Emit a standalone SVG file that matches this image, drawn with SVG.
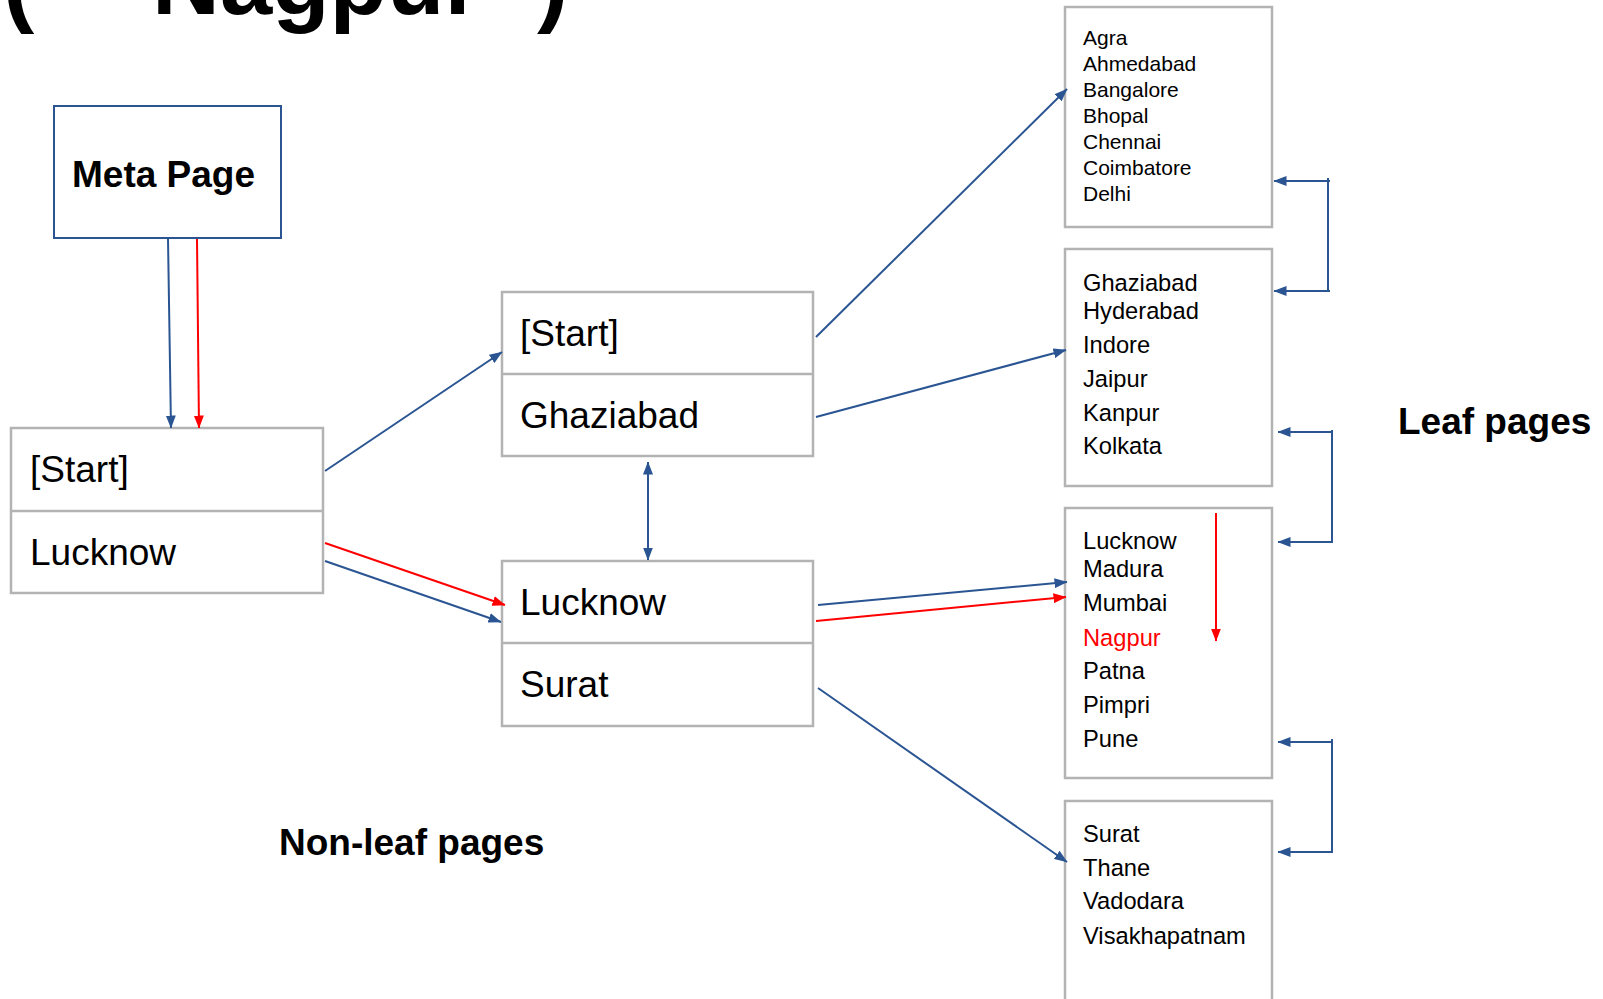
<svg xmlns="http://www.w3.org/2000/svg" width="1603" height="999" viewBox="0 0 1603 999">
  <style>
    .page { fill: #ffffff; stroke: #b3b3b3; stroke-width: 2.5; }
    .div { stroke: #b3b3b3; stroke-width: 2.5; }
    .meta { fill: #ffffff; stroke: #2a5592; stroke-width: 2; }
    .big { font-family: "Liberation Sans", Arial, sans-serif; font-size: 37px; fill: #000; }
    .bold { font-family: "Liberation Sans", Arial, sans-serif; font-size: 37px; font-weight: bold; fill: #000; }
    .list21 { font-family: "Liberation Sans", Arial, sans-serif; font-size: 21px; fill: #000; }
    .list24 { font-family: "Liberation Sans", Arial, sans-serif; font-size: 23.7px; fill: #000; }
    .blue { fill: none; stroke: #2a5592; stroke-width: 2; }
    .red { fill: none; stroke: #ff0000; stroke-width: 2; }
  </style>
  <defs>
    <marker id="ab" viewBox="0 0 13 10" markerWidth="13" markerHeight="10" refX="12.5" refY="5" orient="auto-start-reverse" markerUnits="userSpaceOnUse">
      <path d="M0,0 L13,5 L0,10 z" fill="#2a5592"/>
    </marker>
    <marker id="ar" viewBox="0 0 13 10" markerWidth="13" markerHeight="10" refX="12.5" refY="5" orient="auto" markerUnits="userSpaceOnUse">
      <path d="M0,0 L13,5 L0,10 z" fill="#ff0000"/>
    </marker>
  </defs>

  <rect width="1603" height="999" fill="#ffffff"/>

  <!-- heading, partly above the top edge -->
  <text class="bold" style="font-size:94px" y="14"><tspan x="3">(</tspan><tspan x="152">Nagpur</tspan><tspan x="537">)</tspan></text>

  <g id="meta-page">
    <rect class="meta" x="54" y="106" width="227" height="132"/>
    <text class="bold" x="72" y="187">Meta Page</text>
  </g>

  <g id="root-page">
    <rect class="page" x="11" y="428" width="312" height="165"/>
    <line class="div" x1="11" y1="511" x2="323" y2="511"/>
    <text class="big" x="30" y="482">[Start]</text>
    <text class="big" x="30" y="565">Lucknow</text>
  </g>

  <g id="inner-page-1">
    <rect class="page" x="502" y="292" width="311" height="164"/>
    <line class="div" x1="502" y1="374" x2="813" y2="374"/>
    <text class="big" x="520" y="346">[Start]</text>
    <text class="big" x="520" y="428">Ghaziabad</text>
  </g>

  <g id="inner-page-2">
    <rect class="page" x="502" y="561" width="311" height="165"/>
    <line class="div" x1="502" y1="643" x2="813" y2="643"/>
    <text class="big" x="520" y="615">Lucknow</text>
    <text class="big" x="520" y="697">Surat</text>
  </g>

  <g id="leaf-1">
    <rect class="page" x="1065" y="7" width="207" height="220"/>
    <text class="list21">
      <tspan x="1083" y="45">Agra</tspan>
      <tspan x="1083" y="71">Ahmedabad</tspan>
      <tspan x="1083" y="97">Bangalore</tspan>
      <tspan x="1083" y="123">Bhopal</tspan>
      <tspan x="1083" y="149">Chennai</tspan>
      <tspan x="1083" y="175">Coimbatore</tspan>
      <tspan x="1083" y="201">Delhi</tspan>
    </text>
  </g>

  <g id="leaf-2">
    <rect class="page" x="1065" y="249" width="207" height="237"/>
    <text class="list24">
      <tspan x="1083" y="291">Ghaziabad</tspan>
      <tspan x="1083" y="319">Hyderabad</tspan>
      <tspan x="1083" y="353">Indore</tspan>
      <tspan x="1083" y="387">Jaipur</tspan>
      <tspan x="1083" y="421">Kanpur</tspan>
      <tspan x="1083" y="454">Kolkata</tspan>
    </text>
  </g>

  <g id="leaf-3">
    <rect class="page" x="1065" y="508" width="207" height="270"/>
    <text class="list24">
      <tspan x="1083" y="549">Lucknow</tspan>
      <tspan x="1083" y="577">Madura</tspan>
      <tspan x="1083" y="611">Mumbai</tspan>
      <tspan x="1083" y="646" fill="#ff0000">Nagpur</tspan>
      <tspan x="1083" y="679">Patna</tspan>
      <tspan x="1083" y="713">Pimpri</tspan>
      <tspan x="1083" y="747">Pune</tspan>
    </text>
  </g>

  <g id="leaf-4">
    <rect class="page" x="1065" y="801" width="207" height="220"/>
    <text class="list24">
      <tspan x="1083" y="842">Surat</tspan>
      <tspan x="1083" y="876">Thane</tspan>
      <tspan x="1083" y="909">Vadodara</tspan>
      <tspan x="1083" y="944">Visakhapatnam</tspan>
    </text>
  </g>

  <g id="labels">
    <text class="bold" x="1398" y="434">Leaf pages</text>
    <text class="bold" x="279" y="855">Non-leaf pages</text>
  </g>

  <g id="connectors">
    <!-- meta page to root -->
    <line class="blue" x1="168" y1="239" x2="171" y2="428" marker-end="url(#ab)"/>
    <line class="red" x1="197" y1="239" x2="199" y2="428" marker-end="url(#ar)"/>
    <!-- root to inner pages -->
    <line class="blue" x1="325" y1="471" x2="502" y2="352" marker-end="url(#ab)"/>
    <line class="red" x1="325" y1="543" x2="505" y2="605" marker-end="url(#ar)"/>
    <line class="blue" x1="325" y1="561" x2="501" y2="622" marker-end="url(#ab)"/>
    <!-- sibling link between inner pages -->
    <line class="blue" x1="648" y1="462" x2="648" y2="560" marker-start="url(#ab)" marker-end="url(#ab)"/>
    <!-- inner pages to leaves -->
    <line class="blue" x1="816" y1="337" x2="1067" y2="89" marker-end="url(#ab)"/>
    <line class="blue" x1="816" y1="417" x2="1066" y2="350" marker-end="url(#ab)"/>
    <line class="blue" x1="818" y1="605" x2="1067" y2="582" marker-end="url(#ab)"/>
    <line class="red" x1="816" y1="621" x2="1066" y2="597" marker-end="url(#ar)"/>
    <line class="blue" x1="818" y1="688" x2="1067" y2="862" marker-end="url(#ab)"/>
    <!-- scan inside the leaf -->
    <line class="red" x1="1216" y1="513" x2="1216" y2="641" marker-end="url(#ar)"/>
    <!-- sibling links between leaves -->
    <path class="blue" d="M1274,181 H1330 M1328,178 V291 M1330,291 H1274" marker-start="url(#ab)" marker-end="url(#ab)"/>
    <path class="blue" d="M1278,432 H1333 M1332,430 V542 M1333,542 H1278" marker-start="url(#ab)" marker-end="url(#ab)"/>
    <path class="blue" d="M1278,742 H1333 M1332,739 V852 M1333,852 H1278" marker-start="url(#ab)" marker-end="url(#ab)"/>
  </g>
</svg>
